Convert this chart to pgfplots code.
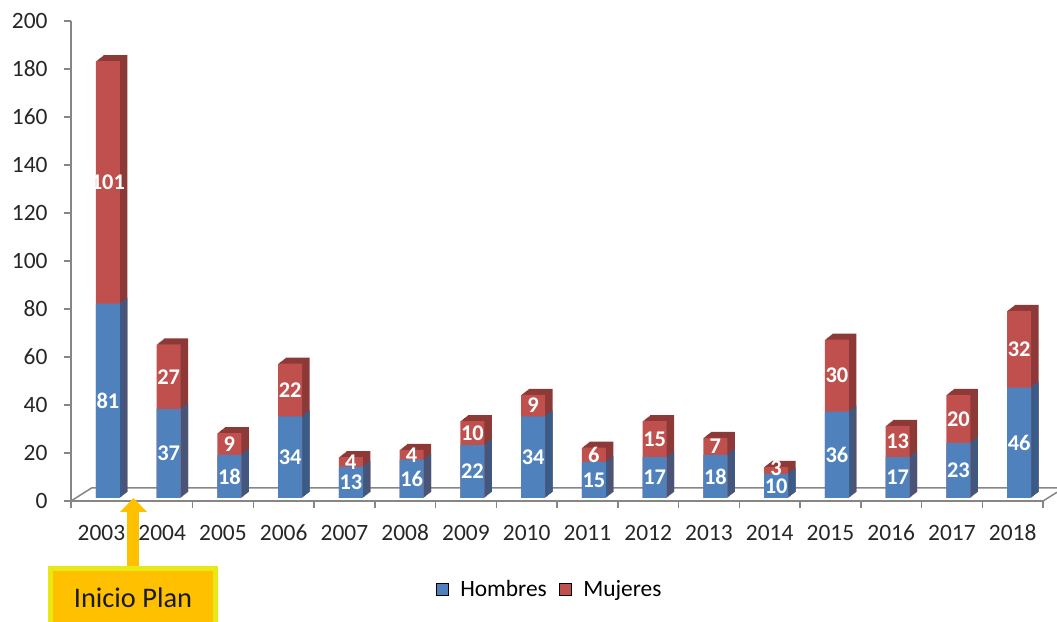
\documentclass[border=0pt]{standalone}
\usepackage{fontspec}
\setmainfont{Carlito}
\usepackage{pgfplots}
\pgfplotsset{compat=1.18}
\usepackage{pgfplotstable}
\definecolor{hblue}{RGB}{79,129,189}
\definecolor{hblued}{RGB}{56,93,138}
\definecolor{mred}{RGB}{192,80,77}
\definecolor{mredd}{RGB}{140,57,55}
\definecolor{axgray}{RGB}{134,134,134}
\definecolor{plan}{RGB}{255,192,0}
\definecolor{planb}{RGB}{232,232,20}

\pgfplotstableread{
x h m t
0 81 101 182
1 37 27 64
2 18 9 27
3 34 22 56
4 13 4 17
5 16 4 20
6 22 10 32
7 34 9 43
8 15 6 21
9 17 15 32
10 18 7 25
11 10 3 13
12 36 30 66
13 17 13 30
14 23 20 43
15 46 32 78
}\data

\pgfplotstableread{
x y lab
0 40.5 81
1 18.5 37
2 9 18
3 17 34
4 6.5 13
5 8 16
6 11 22
7 17 34
8 7.5 15
9 8.5 17
10 9 18
11 4.8 10
12 18 36
13 8.5 17
14 11.5 23
15 23 46
0 131.5 101
1 50.5 27
2 22.5 9
3 45 22
4 15 4
5 18 4
6 27 10
7 38.5 9
8 18 6
9 24.5 15
10 21.5 7
11 12.6 3
12 51 30
13 23.5 13
14 33 20
15 62 32
}\labels

\begin{document}
\begin{tikzpicture}
\path[use as bounding box] (0,0) rectangle (1057bp,622bp);
\begin{axis}[
  at={(71bp,121bp)}, anchor=south west,
  scale only axis, width=972bp, height=480bp,
  xmin=-0.5, xmax=15.5, ymin=0, ymax=200,
  clip=false,
  axis x line*=bottom, axis y line*=left,
  axis line style={axgray, line width=1.5bp},
  ytick={0,20,...,200},
  xtick={0,...,15},
  xticklabels={2003,2004,2005,2006,2007,2008,2009,2010,2011,2012,2013,2014,2015,2016,2017,2018},
  minor xtick={-0.5,0.5,...,15.5},
  tick align=outside,
  major tick length=7bp, minor tick length=7bp,
  y tick style={axgray, line width=1.5bp},
  major x tick style={draw=none},
  minor x tick style={axgray, line width=1.5bp},
  /pgf/number format/assume math mode=true,
  tick label style={font=\fontsize{23.5}{27}\selectfont, text=black!85},
  xticklabel style={text height=15bp, text depth=0bp, yshift=-14bp},
  yticklabel style={xshift=-13bp},
  legend style={draw=none, fill=none, at={(0.4925,-0.183)}, anchor=center,
     font=\fontsize{23.5}{27}\selectfont, column sep=10bp},
  legend columns=2,
  legend image code/.code={\fill[#1] (0bp,-6bp) rectangle (12bp,6bp);},
]
\addlegendimage{fill=hblue}
\addlegendentry{Hombres}
\addlegendimage{fill=mred}
\addlegendentry{Mujeres}

\draw[axgray, line width=1.5bp] (axis cs:-0.5,0) -- (axis cs:-0.162,5.42) -- (axis cs:15.73,5.42);
\draw[axgray, line width=1.5bp] (axis cs:15.5,0) -- (axis cs:15.73,3.63);

\pgfplotsinvokeforeach{8,7,6,5,4,3,2,1}{
  \addplot[ybar, bar width=24bp, bar shift=6.5bp, fill=mredd, draw=none,
    xshift=#1*0.95bp, yshift=3bp+#1*0.75bp, forget plot] table[x=x,y=t]{\data};
  \addplot[ybar, bar width=24bp, bar shift=6.5bp, fill=hblued, draw=none,
    xshift=#1*0.95bp, yshift=3bp+#1*0.75bp, forget plot] table[x=x,y=h]{\data};
}
\addplot[ybar, bar width=24bp, bar shift=6.5bp, fill=mred, draw=none,
    yshift=3bp, forget plot] table[x=x,y=t]{\data};
\addplot[ybar, bar width=24bp, bar shift=6.5bp, fill=hblue, draw=none,
    yshift=3bp, forget plot] table[x=x,y=h]{\data};

\addplot[draw=none, mark=none, forget plot, xshift=6.5bp, yshift=3bp,
  nodes near coords, point meta=explicit symbolic,
  every node near coord/.append style={anchor=center, text=white,
    font=\fontsize{22.5}{25}\selectfont\bfseries, inner sep=0pt}]
  table[x=x,y=y,meta=lab]{\labels};
\end{axis}

% Inicio Plan annotation
\fill[plan] (127bp,56bp) rectangle (139bp,110bp);
\fill[plan] (120bp,110bp) -- (147bp,110bp) -- (133.5bp,124bp) -- cycle;
\draw[planb, line width=5bp, fill=plan] (50.5bp,53.5bp) rectangle (215.5bp,-10bp);
\node[font=\fontsize{28.5}{32}\selectfont, text=black!90] at (133bp,24bp) {Inicio Plan};
\end{tikzpicture}
\end{document}
